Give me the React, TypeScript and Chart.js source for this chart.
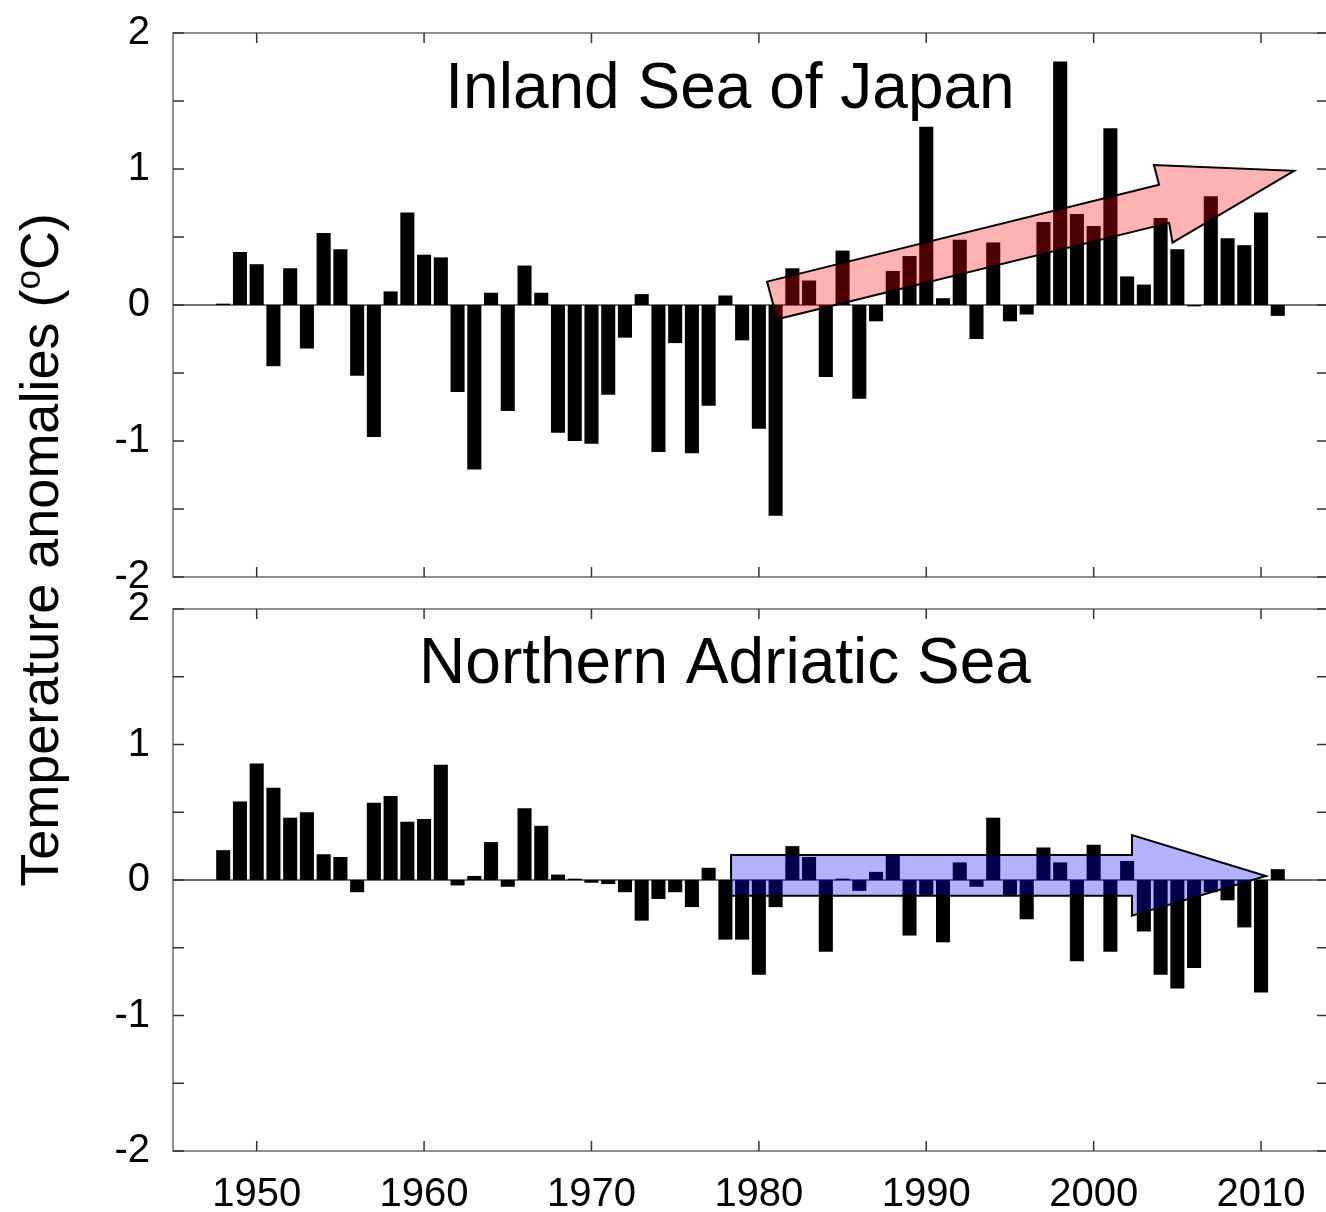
import React, { useEffect, useRef } from "react";
import { Chart, registerables } from "chart.js";

Chart.register(...registerables);

// Annual sea-surface temperature anomalies (°C), 1948–2011
const YEARS = [
  1948, 1949, 1950, 1951, 1952, 1953, 1954, 1955, 1956, 1957, 1958, 1959,
  1960, 1961, 1962, 1963, 1964, 1965, 1966, 1967, 1968, 1969, 1970, 1971,
  1972, 1973, 1974, 1975, 1976, 1977, 1978, 1979, 1980, 1981, 1982, 1983,
  1984, 1985, 1986, 1987, 1988, 1989, 1990, 1991, 1992, 1993, 1994, 1995,
  1996, 1997, 1998, 1999, 2000, 2001, 2002, 2003, 2004, 2005, 2006, 2007,
  2008, 2009, 2010, 2011,
];

const INLAND_SEA = [
  0.01, 0.39, 0.3, -0.45, 0.27, -0.32, 0.53, 0.41, -0.52, -0.97, 0.1, 0.68,
  0.37, 0.35, -0.64, -1.21, 0.09, -0.78, 0.29, 0.09, -0.94, -1.0, -1.02, -0.66,
  -0.24, 0.08, -1.08, -0.28, -1.09, -0.74, 0.07, -0.26, -0.91, -1.55, 0.27, 0.18,
  -0.53, 0.4, -0.69, -0.12, 0.25, 0.36, 1.31, 0.05, 0.48, -0.25, 0.46, -0.12,
  -0.07, 0.61, 1.79, 0.67, 0.58, 1.3, 0.21, 0.15, 0.64, 0.41, -0.01, 0.8,
  0.49, 0.44, 0.68, -0.08,
];

const NORTHERN_ADRIATIC = [
  0.22, 0.58, 0.86, 0.68, 0.46, 0.5, 0.19, 0.17, -0.09, 0.57, 0.62, 0.43,
  0.45, 0.85, -0.04, 0.03, 0.28, -0.05, 0.53, 0.4, 0.04, 0.01, -0.02, -0.03,
  -0.09, -0.3, -0.14, -0.09, -0.2, 0.09, -0.44, -0.44, -0.7, -0.2, 0.25, 0.17,
  -0.53, 0.01, -0.08, 0.06, 0.18, -0.41, -0.11, -0.46, 0.13, -0.05, 0.46, -0.11,
  -0.29, 0.24, 0.13, -0.6, 0.26, -0.53, 0.14, -0.38, -0.7, -0.8, -0.65, -0.09,
  -0.15, -0.35, -0.83, 0.08,
];

const YEAR_MIN = 1945;
const YEAR_MAX = 2014;
const DECADE_TICKS = [1950, 1960, 1970, 1980, 1990, 2000, 2010];
const VALUE_TICKS = [-2, -1, 0, 1, 2];
const HALF_TICKS = [-2, -1.5, -1, -0.5, 0, 0.5, 1, 1.5, 2];

// Trend arrows as [year, anomaly] outline vertices
const WARMING_ARROW = [
  [1980.49, 0.172],
  [2003.91, 0.884],
  [2003.6, 1.029],
  [2011.97, 0.987],
  [2004.71, 0.459],
  [2004.51, 0.604],
  [1981.09, -0.105],
];

const FLAT_ARROW = [
  [1978.34, 0.185],
  [2002.29, 0.185],
  [2002.29, 0.332],
  [2010.29, 0.03],
  [2002.29, -0.264],
  [2002.29, -0.116],
  [1978.34, -0.116],
];

const FONT = "'Liberation Sans', Arial, Helvetica, sans-serif";
const CANVAS_W = 1340;
const CANVAS_H = 1212;

type DecorOpts = {
  title: string;
  titleDx: number;
  titleDy: number;
  arrow: number[][];
  arrowFill: string;
  yTitle: boolean;
};

const panelDecor = {
  id: "panelDecor",
  beforeDatasetsDraw(chart: any) {
    const { ctx, chartArea } = chart;
    const y0 = chart.scales.y.getPixelForValue(0);
    ctx.save();
    ctx.strokeStyle = "#444";
    ctx.lineWidth = 1.5;
    ctx.beginPath();
    ctx.moveTo(chartArea.left, y0);
    ctx.lineTo(chartArea.right, y0);
    ctx.stroke();
    ctx.restore();
  },
  afterDatasetsDraw(chart: any, _args: any, opts: DecorOpts) {
    const { ctx, chartArea } = chart;
    const xs = chart.scales.x;
    const ys = chart.scales.y;

    // trend arrow
    ctx.save();
    ctx.beginPath();
    opts.arrow.forEach(([yr, v], i) => {
      const px = xs.getPixelForValue(yr);
      const py = ys.getPixelForValue(v);
      if (i === 0) ctx.moveTo(px, py);
      else ctx.lineTo(px, py);
    });
    ctx.closePath();
    ctx.fillStyle = opts.arrowFill;
    ctx.fill();
    ctx.strokeStyle = "#000";
    ctx.lineWidth = 2;
    ctx.lineJoin = "miter";
    ctx.stroke();
    ctx.restore();

    // frame
    ctx.save();
    ctx.strokeStyle = "#6a6a6a";
    ctx.lineWidth = 1.5;
    ctx.strokeRect(
      chartArea.left,
      chartArea.top,
      chartArea.right - chartArea.left,
      chartArea.bottom - chartArea.top
    );

    // inward tick marks on all four sides
    ctx.strokeStyle = "#333";
    ctx.lineWidth = 1.5;
    ctx.beginPath();
    HALF_TICKS.forEach((v) => {
      const py = ys.getPixelForValue(v);
      ctx.moveTo(chartArea.left, py);
      ctx.lineTo(chartArea.left + 11, py);
      ctx.moveTo(chartArea.right, py);
      ctx.lineTo(chartArea.right - 11, py);
    });
    DECADE_TICKS.forEach((d) => {
      const px = xs.getPixelForValue(d);
      ctx.moveTo(px, chartArea.bottom);
      ctx.lineTo(px, chartArea.bottom - 10);
      ctx.moveTo(px, chartArea.top);
      ctx.lineTo(px, chartArea.top + 10);
    });
    ctx.stroke();
    ctx.restore();

    // panel title
    ctx.save();
    ctx.fillStyle = "#000";
    ctx.font = `64px ${FONT}`;
    ctx.textAlign = "center";
    ctx.textBaseline = "alphabetic";
    ctx.fillText(
      opts.title,
      chartArea.left + opts.titleDx,
      chartArea.top + opts.titleDy
    );
    ctx.restore();

    // shared y-axis title with superscript degree "o"
    if (opts.yTitle) {
      const main = "Temperature anomalies (";
      const sup = "o";
      const tail = "C)";
      const big = `54px ${FONT}`;
      const small = `35px ${FONT}`;
      ctx.save();
      ctx.fillStyle = "#000";
      ctx.font = big;
      const w1 = ctx.measureText(main).width;
      const w3 = ctx.measureText(tail).width;
      ctx.font = small;
      const w2 = ctx.measureText(sup).width;
      const total = w1 + w2 + w3;
      ctx.translate(58, 550);
      ctx.rotate(-Math.PI / 2);
      ctx.textBaseline = "alphabetic";
      ctx.textAlign = "left";
      let x = -total / 2;
      ctx.font = big;
      ctx.fillText(main, x, 0);
      x += w1;
      ctx.font = small;
      ctx.fillText(sup, x, -18);
      x += w2;
      ctx.font = big;
      ctx.fillText(tail, x, 0);
      ctx.restore();
    }
  },
};

function buildConfig(
  values: number[],
  padTop: number,
  padBottom: number,
  xHeight: number,
  showYears: boolean,
  decor: DecorOpts
): any {
  return {
    type: "bar",
    data: {
      datasets: [
        {
          data: YEARS.map((yr, i) => ({ x: yr, y: values[i] })),
          backgroundColor: "#000",
          borderWidth: 0,
          barPercentage: 0.84,
          categoryPercentage: 1,
        },
      ],
    },
    options: {
      animation: false,
      responsive: false,
      devicePixelRatio: 1,
      layout: { padding: { top: padTop, bottom: padBottom, left: 0, right: 12 } },
      plugins: {
        legend: { display: false },
        tooltip: { enabled: false },
        panelDecor: decor,
      },
      scales: {
        x: {
          type: "linear",
          min: YEAR_MIN,
          max: YEAR_MAX,
          offset: false,
          grid: { display: false, drawTicks: false, offset: false },
          border: { display: false },
          afterBuildTicks: (s: any) => {
            s.ticks = DECADE_TICKS.map((v) => ({ value: v }));
          },
          ticks: {
            display: showYears,
            autoSkip: false,
            maxRotation: 0,
            padding: 20,
            color: "#000",
            font: { family: FONT, size: 40 },
            callback: (v: any) => String(v),
          },
          afterFit: (s: any) => {
            s.height = xHeight;
            s.paddingLeft = 0;
            s.paddingRight = 0;
          },
        },
        y: {
          min: -2,
          max: 2,
          grid: { display: false, drawTicks: false },
          border: { display: false },
          afterBuildTicks: (s: any) => {
            s.ticks = VALUE_TICKS.map((v) => ({ value: v }));
          },
          ticks: {
            padding: 23,
            color: "#000",
            font: { family: FONT, size: 40 },
            callback: (v: any) => String(v),
          },
          afterFit: (s: any) => {
            s.width = 173;
            s.paddingTop = 0;
            s.paddingBottom = 0;
          },
        },
      },
    },
    plugins: [panelDecor],
  };
}

export default function App() {
  const topRef = useRef<HTMLCanvasElement | null>(null);
  const bottomRef = useRef<HTMLCanvasElement | null>(null);

  useEffect(() => {
    if (!topRef.current || !bottomRef.current) return;
    const top = new Chart(
      topRef.current,
      buildConfig(INLAND_SEA, 33, CANVAS_H - 577 - 30, 30, false, {
        title: "Inland Sea of Japan",
        titleDx: 557,
        titleDy: 75,
        arrow: WARMING_ARROW,
        arrowFill: "rgba(255, 0, 0, 0.3)",
        yTitle: true,
      })
    );
    const bottom = new Chart(
      bottomRef.current,
      buildConfig(NORTHERN_ADRIATIC, 609, 0, CANVAS_H - 1151, true, {
        title: "Northern Adriatic Sea",
        titleDx: 552,
        titleDy: 74,
        arrow: FLAT_ARROW,
        arrowFill: "rgba(0, 0, 255, 0.3)",
        yTitle: false,
      })
    );
    return () => {
      top.destroy();
      bottom.destroy();
    };
  }, []);

  const canvasStyle: React.CSSProperties = {
    position: "absolute",
    left: 0,
    top: 0,
    width: CANVAS_W,
    height: CANVAS_H,
  };

  return (
    <div
      style={{
        position: "absolute",
        left: 0,
        top: 0,
        width: 1326,
        height: 1212,
        overflow: "hidden",
        background: "#fff",
      }}
    >
      <canvas ref={topRef} width={CANVAS_W} height={CANVAS_H} style={canvasStyle} />
      <canvas ref={bottomRef} width={CANVAS_W} height={CANVAS_H} style={canvasStyle} />
    </div>
  );
}
